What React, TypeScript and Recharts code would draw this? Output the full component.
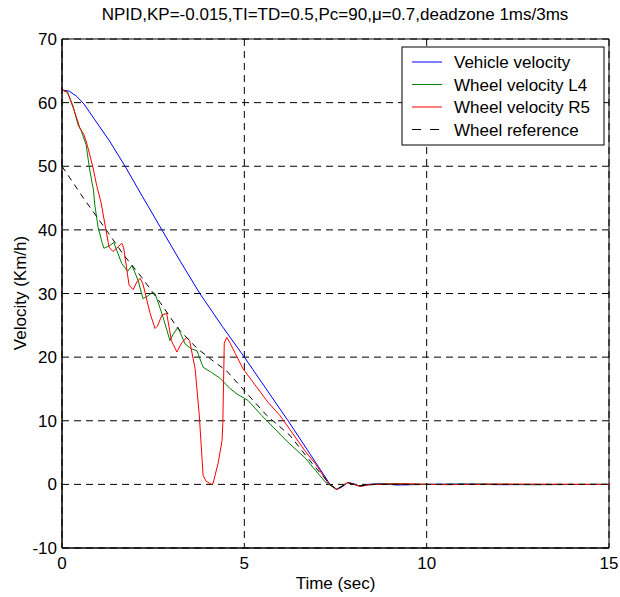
import React from 'react';
import { LineChart, Line, XAxis, YAxis, CartesianGrid, ReferenceArea } from 'recharts';

const chartTitle = 'NPID,KP=-0.015,TI=TD=0.5,Pc=90,\u03bc=0.7,deadzone 1ms/3ms';
const xLabel = 'Time (sec)';
const yLabel = 'Velocity (Km/h)';
const xTicks = [0, 5, 10, 15];
const yTicks = [-10, 0, 10, 20, 30, 40, 50, 60, 70];

const vehicleVelocity: [number, number][] = [
  [0, 62], [0.2, 61.8], [0.4, 61], [0.6, 59.8], [0.9, 57.3], [1.3, 54], [1.73, 50],
  [2.2, 45.3], [2.74, 40], [3.25, 35], [3.78, 30], [4.4, 24.8], [5.0, 20], [5.6, 15],
  [6.2, 10], [6.8, 4.8], [7.35, 0], [7.54, -0.8], [7.68, -0.4], [7.84, 0.3], [8.0, 0.1],
  [8.17, -0.3], [8.4, 0], [8.7, 0.1], [9.2, -0.1], [10, 0], [11, 0.05], [12, -0.05], [15, 0],
];

const wheelL4: [number, number][] = [
  [0, 62], [0.15, 61.7], [0.3, 59.5], [0.44, 56.5], [0.52, 55.7], [0.66, 53.4], [0.74, 50.2],
  [0.82, 47.5], [0.86, 46.4], [0.9, 43.9], [0.99, 40.4], [1.1, 38], [1.15, 37.1], [1.3, 37.5],
  [1.42, 38], [1.64, 34.7], [1.8, 33.5], [1.92, 34.4], [2.09, 32], [2.22, 29.2], [2.35, 29.6],
  [2.46, 30.1], [2.55, 30], [2.69, 27.7], [2.77, 26.3], [2.96, 22.6], [3.05, 23.6],
  [3.18, 24.7], [3.37, 22.1], [3.55, 21.3], [3.7, 21], [3.87, 18.4], [4.1, 17.6],
  [4.33, 16.7], [4.6, 15.1], [4.8, 14.2], [5.1, 13.2], [5.48, 10.8], [5.79, 9],
  [6.2, 6.6], [6.66, 4.2], [6.88, 2.7], [7.2, 0.5], [7.52, -0.8], [7.84, 0.3],
  [8.17, -0.3], [8.5, 0], [9, 0.1], [10, 0], [11.5, 0.05], [13, -0.05], [15, 0],
];

const wheelR5: [number, number][] = [
  [0, 62], [0.15, 61.6], [0.3, 59.3], [0.42, 57.3], [0.49, 56], [0.6, 55], [0.68, 53.6],
  [0.85, 49.8], [0.95, 47], [1.07, 44.3], [1.29, 37.3], [1.4, 36.6], [1.55, 37.4],
  [1.64, 37.9], [1.69, 37.2], [1.84, 31.3], [1.95, 30.6], [2.05, 31.8], [2.14, 32.4],
  [2.22, 31.5], [2.41, 27], [2.55, 24.5], [2.62, 24.9], [2.74, 26.6], [2.87, 26.9],
  [3.0, 22.6], [3.15, 20.8], [3.28, 22.2], [3.42, 23.1], [3.5, 22.6], [3.56, 20.8],
  [3.65, 18.2], [3.76, 11.2], [3.87, 1.4], [3.95, 0.5], [4.1, 0], [4.14, 0.1],
  [4.28, 3.3], [4.39, 6.9], [4.41, 9.6], [4.45, 22.2], [4.52, 23.1], [4.6, 22.3],
  [4.75, 20.6], [4.96, 18.2], [5.65, 12.9], [5.98, 10.8], [6.66, 5.3], [6.94, 3.3],
  [7.3, 0.2], [7.54, -0.8], [7.84, 0.3], [8.17, -0.3], [8.5, 0], [9.3, 0.1], [10.5, -0.05],
  [12, 0.05], [15, 0],
];

const wheelReference: [number, number][] = [
  [0, 50], [0.6, 44.9], [1.26, 39.6], [1.7, 36], [2.19, 32.5], [2.69, 28.6], [3.18, 24.5],
  [3.7, 21.4], [4.1, 19.6], [4.52, 17.8], [5.02, 14.6], [5.62, 10.8], [6.25, 7.7],
  [6.9, 3], [7.35, 0], [7.52, -0.8], [7.84, 0.2], [8.17, -0.2], [8.6, 0], [15, 0],
];

const seriesNames = ['Vehicle velocity', 'Wheel velocity L4', 'Wheel velocity R5', 'Wheel reference'];
const seriesColors = ['#0000ff', '#008000', '#ff0000', '#000000'];
const seriesDashes = [undefined, undefined, undefined, '6 5'];
const seriesPoints = [vehicleVelocity, wheelL4, wheelR5, wheelReference];

const toRows = (pts: [number, number][]) => pts.map(([t, v]) => ({ t, v }));

const FONT = 'Liberation Sans, Arial, Helvetica, sans-serif';

function Overlay() {
  const lx = 402;
  const ly = 47;
  return (
    <g>
      <text x={335} y={20} textAnchor="middle" fontSize={17} fontFamily={FONT} fill="#000">
        {chartTitle}
      </text>
      <text
        x={26}
        y={293}
        textAnchor="middle"
        fontSize={17}
        fontFamily={FONT}
        fill="#000"
        transform="rotate(-90 26 293)"
      >
        {yLabel}
      </text>
      <rect x={lx} y={ly} width={202} height={98} fill="#fff" stroke="#000" strokeWidth={1} />
      {seriesNames.map((name, i) => {
        const cy = ly + 15 + i * 22.5;
        return (
          <g key={name}>
            <line
              x1={lx + 10}
              x2={lx + 40}
              y1={cy}
              y2={cy}
              stroke={seriesColors[i]}
              strokeWidth={1}
              strokeDasharray={seriesDashes[i] ? '9 9' : undefined}
            />
            <text x={lx + 52} y={cy + 6} fontSize={17} fontFamily={FONT} fill="#000">
              {name}
            </text>
          </g>
        );
      })}
    </g>
  );
}

export default function App() {
  return (
    <div style={{ position: 'absolute', left: 0, top: 0, width: 620, height: 597, background: '#fff' }}>
      <LineChart width={620} height={597} margin={{ top: 39, right: 11, bottom: 0, left: 0 }}>
        <CartesianGrid stroke="#000" strokeDasharray="7 5" strokeWidth={1} />
        <XAxis
          dataKey="t"
          type="number"
          domain={[0, 15]}
          ticks={xTicks}
          allowDataOverflow
          height={49}
          tickSize={0}
          tickMargin={9}
          axisLine={{ stroke: '#000' }}
          tick={{ fill: '#000', fontSize: 17, fontFamily: FONT }}
          label={{ value: xLabel, position: 'insideBottom', offset: 8, fill: '#000', fontSize: 17, fontFamily: FONT }}
        />
        <YAxis
          type="number"
          domain={[-10, 70]}
          ticks={yTicks}
          allowDataOverflow
          width={62}
          tickSize={0}
          tickMargin={5}
          axisLine={{ stroke: '#000' }}
          tick={{ fill: '#000', fontSize: 17, fontFamily: FONT }}
        />
        {seriesPoints.map((pts, i) => (
          <Line
            key={seriesNames[i]}
            data={toRows(pts)}
            dataKey="v"
            name={seriesNames[i]}
            type="linear"
            stroke={seriesColors[i]}
            strokeWidth={1}
            strokeDasharray={seriesDashes[i]}
            dot={false}
            activeDot={false}
            isAnimationActive={false}
          />
        ))}
        <ReferenceArea x1={0} x2={15} y1={-10} y2={70} fill="none" stroke="#000" strokeWidth={1} ifOverflow="visible" />
        <Overlay />
      </LineChart>
    </div>
  );
}
